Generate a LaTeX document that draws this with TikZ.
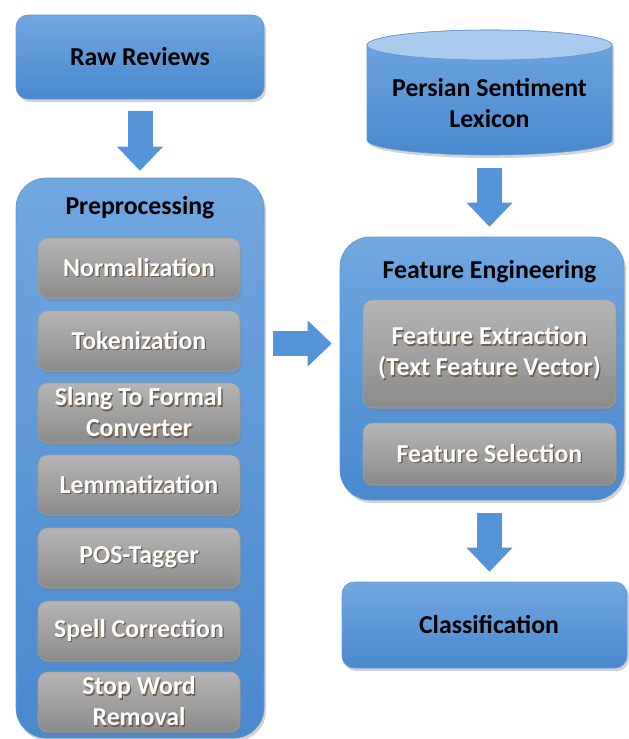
\documentclass[tikz,border=0pt]{standalone}
\usepackage{fontspec}
\setmainfont{Carlito}
\usepackage{xcolor}
\usepackage{tikz}
\usetikzlibrary{calc}
\usetikzlibrary{shadows,arrows.meta}

\definecolor{boxtop}{HTML}{70A7DF}
\definecolor{boxbot}{HTML}{4A89CF}
\definecolor{boxline}{HTML}{5F99D6}
\definecolor{lexend}{HTML}{A9CAED}
\definecolor{graytop}{HTML}{B5B5B5}
\definecolor{graybot}{HTML}{8B8B8B}
\definecolor{grayline}{HTML}{A0A0A0}
\definecolor{arrowblue}{HTML}{5594D8}
\definecolor{txtshade}{HTML}{6E5E4C}

\newcommand{\shd}[1]{\makebox[0pt][l]{\hspace{1.3pt}\raisebox{-1.3pt}{\textcolor{txtshade}{#1}}}#1}

\tikzset{
  bluebox/.style={draw=boxline, line width=0.6pt, rounded corners=12pt,
    top color=boxtop, bottom color=boxbot, inner sep=0pt,
    drop shadow={shadow xshift=2pt, shadow yshift=-3pt, opacity=0.35}},
  groupbox/.style={bluebox, rounded corners=30pt},
  graybox/.style={draw=grayline, line width=0.6pt, rounded corners=10pt,
    top color=graytop, bottom color=graybot, text=white, align=center,
    minimum width=202pt, minimum height=60pt, inner sep=0pt,
    drop shadow={shadow xshift=2pt, shadow yshift=-3pt, opacity=0.35}},
  flow/.style={draw=arrowblue, line width=25pt,
    -{Triangle[width=46pt, length=24pt, line width=0pt]}}
}

\begin{document}
\begin{tikzpicture}[x=1pt, y=-1pt, font=\fontsize{25.8}{31}\selectfont\bfseries]
	\useasboundingbox (0,0) rectangle (629,739);
	% left column
	\node[bluebox, minimum width=248pt, minimum height=84pt] (raw) at (140,57) {Raw Reviews};
	\node[groupbox, minimum width=248pt, minimum height=560pt] (pre) at (140,458) {};
	\node[inner sep=0pt] (pretitle) at (140,208) {Preprocessing};
	\node[graybox] (norm) at (139,268) {\shd{Normalization}};
	\node[graybox] (tok) at (139,341) {\shd{Tokenization}};
	\node[graybox] (slang) at (139,413) {\shd{Slang To Formal}\\\shd{Converter}};
	\node[graybox] (lemma) at (139,485) {\shd{Lemmatization}};
	\node[graybox] (pos) at (139,558) {\shd{POS-Tagger}};
	\node[graybox] (spell) at (139,631) {\shd{Spell Correction}};
	\node[graybox] (stop) at (139,702) {\shd{Stop Word}\\\shd{Removal}};
	% right column
	\shade[top color=boxtop, bottom color=boxbot, draw=boxline, line width=0.6pt,
	  drop shadow={shadow xshift=2pt, shadow yshift=-3pt, opacity=0.35}]
	  (367,45) -- (367,140) arc[start angle=180, end angle=360, x radius=122.5pt, y radius=15pt]
	  -- (612,45) arc[start angle=0, end angle=180, x radius=122.5pt, y radius=15pt] -- cycle;
	\fill[lexend, draw=boxline, line width=0.6pt] (489.5,45) ellipse[x radius=122.5pt, y radius=15pt];
	\node[align=center, inner sep=0pt] (lex) at (489.5,103) {Persian Sentiment\\Lexicon};
	\coordinate (lexbot) at (489.5,155);
	\node[groupbox, minimum width=284pt, minimum height=263pt] (fe) at (482,368.5) {};
	\node[inner sep=0pt] (fetitle) at (489.5,272) {Feature Engineering};
	\node[graybox, minimum width=253pt, minimum height=108pt] (extract) at (489.5,354) {\shd{Feature Extraction}\\\shd{(Text Feature Vector)}};
	\node[graybox, minimum width=253pt, minimum height=62pt] (select) at (489.5,454) {\shd{Feature Selection}};
	\node[bluebox, minimum width=285pt, minimum height=86pt] (cls) at (484.5,625) {\hspace{9pt}Classification};
	% block arrows
	\draw[flow] ($(raw.south)+(0,12)$) -- ($(pre.north)+(0,-7)$);
	\draw[flow] ($(lexbot)+(0,13)$) -- ($(lexbot |- fe.north)+(0,-10)$);
	\draw[flow] ($(tok -| pre.east)+(9,2.5)$) -- ($(tok -| fe.west)+(-8,2.5)$);
	\draw[flow] ($(lexbot |- fe.south)+(0,13)$) -- ($(lexbot |- cls.north)+(0,-10)$);
\end{tikzpicture}
\end{document}
